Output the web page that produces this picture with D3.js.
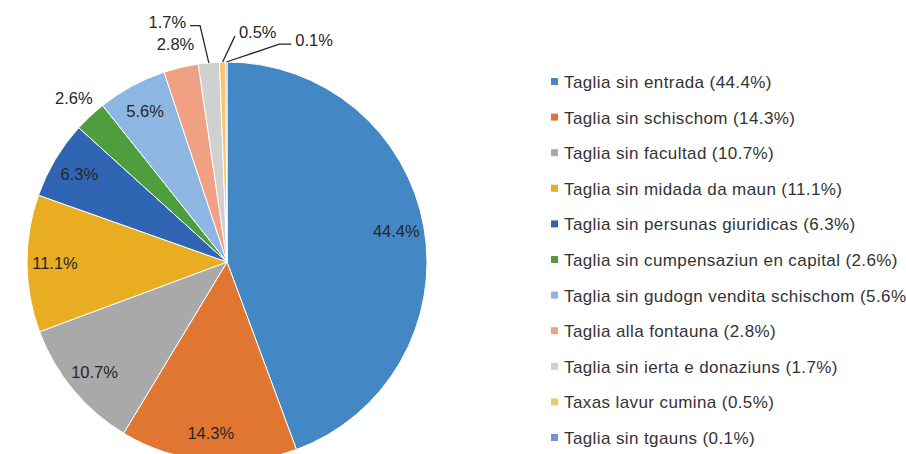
<!DOCTYPE html>
<html><head><meta charset="utf-8">
<script src="https://cdn.jsdelivr.net/npm/d3@7"></script>
<style>
html,body{margin:0;padding:0;background:#fff;}
svg{display:block;font-family:"Liberation Sans",Arial,sans-serif;}
</style></head>
<body>
<svg id="chart" width="906" height="454"></svg>
<script>
const categories = [
  "Taglia sin entrada",
  "Taglia sin schischom",
  "Taglia sin facultad",
  "Taglia sin midada da maun",
  "Taglia sin persunas giuridicas",
  "Taglia sin cumpensaziun en capital",
  "Taglia sin gudogn vendita schischom",
  "Taglia alla fontauna",
  "Taglia sin ierta e donaziuns",
  "Taxas lavur cumina",
  "Taglia sin tgauns"
];
const values = [44.4, 14.3, 10.7, 11.1, 6.3, 2.6, 5.6, 2.8, 1.7, 0.5, 0.1];
const colors = ["#4387c4", "#e07632", "#a9a9a9", "#e9ad22", "#2f65b3", "#4e9e3e", "#8db7e2", "#f0a083", "#d0d0d0", "#f7c56a", "#7393cf"];
const labelTexts = ["44.4%", "14.3%", "10.7%", "11.1%", "6.3%", "2.6%", "5.6%", "2.8%", "1.7%", "0.5%", "0.1%"];

const svg = d3.select("#chart");
const cx = 227, cy = 262, R = 200;
const g = svg.append("g").attr("transform", `translate(${cx},${cy})`);

const pie = d3.pie().sort(null).value(d => d)(values);
const arc = d3.arc().innerRadius(0).outerRadius(R);

g.selectAll("path.slice").data(pie).enter().append("path")
  .attr("class", "slice")
  .attr("d", arc)
  .attr("fill", (d, i) => colors[i])
  .attr("stroke", "#fff").attr("stroke-width", 1);

const txtColor = "#262626";
const fs = 16.5;

// label layout (placement style per slice)
const inside = d3.arc().innerRadius(R * 0.86).outerRadius(R * 0.86);
const outside = d3.arc().innerRadius(R * 1.12).outerRadius(R * 1.12);
const mode = ["in", "in", "in", "in", "in", "out", "in", "out", "lead", "lead", "lead"];
// leader layout: elbow polar (radius factor, angle deg), horizontal tail length, text side
const leader = {
  8: {rf: 1.19, ang: -6.5, tail: -10, side: "end"},
  9: {rf: 1.13, ang: 2.0, tail: 0, side: "start"},
  10: {rf: 1.12, ang: 13.5, tail: 12, side: "start"}
};

pie.forEach((d, i) => {
  if (mode[i] === "lead") return;
  const c = (mode[i] === "in" ? inside : outside).centroid(d);
  g.append("text").attr("x", c[0]).attr("y", c[1]).attr("dy", "0.35em")
    .attr("text-anchor", "middle").attr("font-size", fs).attr("fill", txtColor)
    .text(labelTexts[i]);
});

Object.keys(leader).forEach(k => {
  const i = +k, d = pie[i], L = leader[k];
  const mid = (d.startAngle + d.endAngle) / 2;
  const p0 = [R * Math.sin(mid), -R * Math.cos(mid)];
  const a = L.ang * Math.PI / 180;
  const p1 = [R * L.rf * Math.sin(a), -R * L.rf * Math.cos(a)];
  const p2 = [p1[0] + L.tail, p1[1]];
  g.append("path").attr("d", d3.line()([p0, p1, p2]))
    .attr("fill", "none").attr("stroke", "#262626").attr("stroke-width", 1.3);
  const off = L.side === "end" ? -4 : 4;
  g.append("text").attr("x", p2[0] + off).attr("y", p2[1] + 2)
    .attr("text-anchor", L.side).attr("font-size", fs).attr("fill", txtColor)
    .text(labelTexts[i]);
});

// legend
const legend = svg.append("g").attr("transform", "translate(551,82)");
const rowH = 35.6;
categories.forEach((c, i) => {
  const row = legend.append("g").attr("transform", `translate(0,${i * rowH})`);
  row.append("rect").attr("x", 0).attr("y", -4).attr("width", 7).attr("height", 7).attr("fill", colors[i]);
  row.append("text").attr("x", 13).attr("y", 0).attr("dy", "0.35em")
    .attr("font-size", 17).attr("letter-spacing", "0.4px").attr("fill", "#333")
    .text(`${c} (${labelTexts[i]})`);
});
</script>
</body></html>
